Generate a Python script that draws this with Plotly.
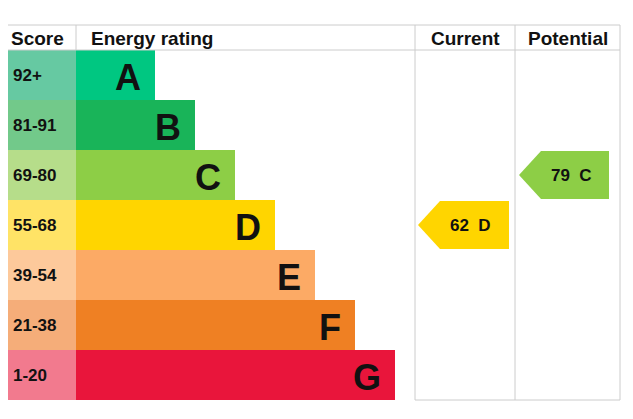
import plotly.graph_objects as go

bands = ["A", "B", "C", "D", "E", "F", "G"]
scores = ["92+", "81-91", "69-80", "55-68", "39-54", "21-38", "1-20"]
bar_ends = [155, 195, 235, 275, 315, 355, 395]
bar_colors = ["#00c781", "#19b459", "#8dce46", "#ffd500", "#fcaa65", "#ef8023", "#e9153b"]
score_colors = ["#66c9a2", "#72c98a", "#b6dd8a", "#ffe366", "#fdc99b", "#f5ad79", "#f27a8e"]
headers = ["Score", "Energy rating", "Current", "Potential"]
current_value, current_band = 62, "D"
potential_value, potential_band = 79, "C"

W, H = 633, 419
OFF = 8  # page body margin
top, head_h, row_h = 25, 25, 50
x_left, x_bar, x_cur, x_pot, x_right = 4, 76, 415, 515, 620

fig = go.Figure()
row_c = [top + head_h + row_h * i + row_h / 2 for i in range(len(bands))]

fig.add_trace(go.Bar(y=row_c, x=[x_bar - x_left] * 7, base=x_left, orientation="h",
                     width=row_h, marker=dict(color=score_colors, line_width=0),
                     hoverinfo="skip"))
fig.add_trace(go.Bar(y=row_c, x=[e - x_bar for e in bar_ends], base=x_bar, orientation="h",
                     width=row_h, marker=dict(color=bar_colors, line_width=0),
                     hoverinfo="skip"))

for i, b in enumerate(bands):
    fig.add_annotation(x=x_left + 7, y=row_c[i], text="<b>%s</b>" % scores[i], showarrow=False,
                       xanchor="left", font=dict(family="Liberation Sans", size=17, color="#111"))
    fig.add_annotation(x=bar_ends[i] - 12, y=row_c[i] + 2, text="<b>%s</b>" % b, showarrow=False,
                       xanchor="right", font=dict(family="Liberation Sans", size=36, color="#111"))

lc = "#cccccc"
for x in [x_left, x_bar, x_cur, x_pot, x_right]:
    y1 = top + head_h if x == x_bar else top + head_h + row_h * 7
    fig.add_shape(type="line", x0=x, x1=x, y0=top, y1=y1, line=dict(color=lc, width=1))
for y in [top, top + head_h]:
    fig.add_shape(type="line", x0=x_left, x1=x_right, y0=y, y1=y, line=dict(color=lc, width=1))
fig.add_shape(type="line", x0=x_cur, x1=x_right, y0=top + head_h + row_h * 7,
              y1=top + head_h + row_h * 7, line=dict(color=lc, width=1))

hx = [x_left + 5, x_bar + 13, (x_cur + x_pot) / 2, (x_pot + x_right) / 2]
ha = ["left", "left", "center", "center"]
for t, x, a in zip(headers, hx, ha):
    fig.add_annotation(x=x, y=top + head_h / 2 + 1, text="<b>%s</b>" % t, showarrow=False,
                       xanchor=a, font=dict(family="Liberation Sans", size=19, color="#111"))

def arrow(x0, x1, band, value):
    i = bands.index(band)
    yt = top + head_h + row_h * i
    yb = yt + row_h
    ym = (yt + yb) / 2
    tip = 22
    path = "M %f %f L %f %f L %f %f L %f %f L %f %f Z" % (x0, ym, x0 + tip, yt + 1, x1, yt + 1,
                                                        x1, yb - 1, x0 + tip, yb - 1)
    fig.add_shape(type="path", path=path, fillcolor=bar_colors[i], line_width=0, layer="below")
    fig.add_annotation(x=(x0 + tip + x1) / 2 - 4, y=ym, text="<b>%d  %s</b>" % (value, band),
                       showarrow=False, font=dict(family="Liberation Sans", size=17, color="#111"))

arrow(418, 509, current_band, current_value)
arrow(519, 609, potential_band, potential_value)

fig.update_layout(width=W, height=H, margin=dict(l=0, r=0, t=0, b=0),
                  paper_bgcolor="white", plot_bgcolor="white", showlegend=False,
                  bargap=0, barmode="overlay",
                  xaxis=dict(range=[OFF, W + OFF], visible=False, fixedrange=True),
                  yaxis=dict(range=[H + OFF, OFF], visible=False, fixedrange=True))
fig.write_html("out.html")
